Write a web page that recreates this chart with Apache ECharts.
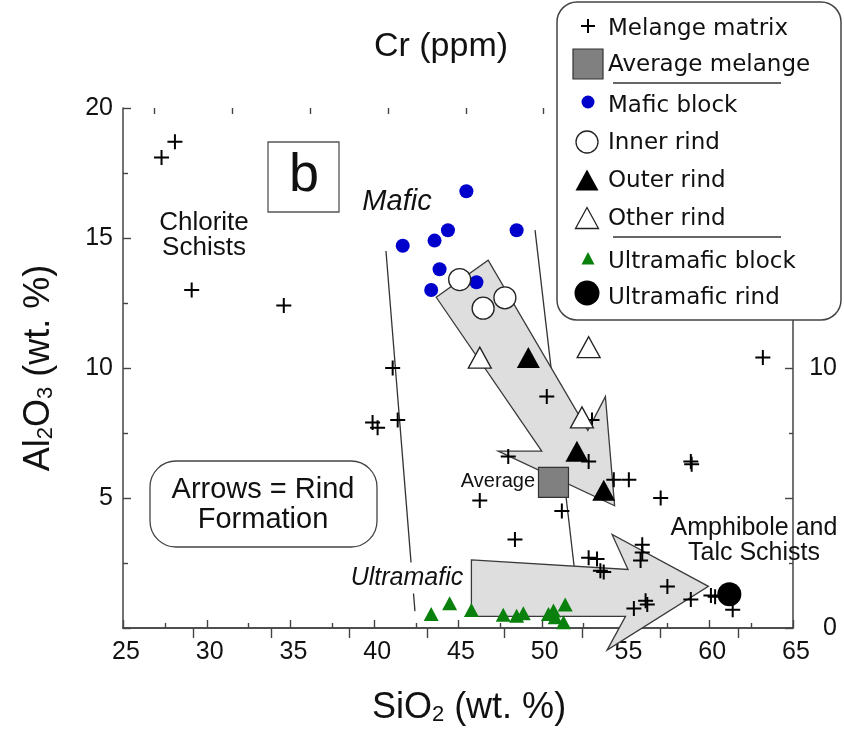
<!DOCTYPE html>
<html>
<head>
<meta charset="utf-8">
<script src="https://cdn.jsdelivr.net/npm/echarts@6/dist/echarts.min.js"></script>
<style>html,body{margin:0;padding:0;background:#fff;}#c{width:844px;height:735px;}</style>
</head>
<body>
<div id="c"></div>
<script>
// ---- data (SiO2 wt.%, Al2O3 wt.%) ----
const melangeMatrix = [[27.3,18.1],[28.1,18.7],[29.1,13.0],[34.6,12.4],[41.1,10.0],[39.9,7.9],[40.2,7.7],[41.4,8.0],
  [50.3,8.9],[53.0,8.0],[48.0,6.6],[52.8,6.4],[54.3,5.7],[55.2,5.7],[58.9,6.4],[58.95,6.3],[57.1,5.0],[46.3,4.9],
  [51.2,4.5],[48.4,3.4],[56.0,3.2],[56.0,2.9],[55.9,2.6],[52.8,2.7],[53.3,2.65],[53.5,2.2],[53.7,2.15],[57.5,1.6],
  [56.2,1.05],[56.3,0.9],[55.5,0.75],[58.9,1.1],[60.1,1.25],[60.35,1.2],[61.4,0.7],[63.2,10.4]];
const averageMelange = [[50.7,5.6]];
const maficBlock = [[45.5,16.8],[41.7,14.7],[43.6,14.9],[44.4,15.3],[48.5,15.3],[43.9,13.8],[46.1,13.3],[43.4,13.0]];
const innerRind = [[45.1,13.4],[47.8,12.7],[46.5,12.3]];
const outerRind = [[49.2,10.4],[52.1,6.8],[53.7,5.3]];
const otherRind = [[46.3,10.4],[52.8,10.8],[52.4,8.1]];
const ultramaficBlock = [[43.4,0.54],[44.5,0.95],[45.8,0.69],[47.7,0.51],[48.5,0.47],[48.9,0.57],[50.7,0.67],
  [50.8,0.41],[51.4,0.9],[51.3,0.22],[50.4,0.54]];
const ultramaficRind = [[61.2,1.3]];
// boundary lines and rind-formation arrows (vertices in data units)
const leftBoundary = [[40.7,14.5],[42.43,0.65]];
const rightBoundary = [[49.6,15.3],[52.0,2.0]];
const upperArrow = [[43.7,12.72],[46.8,14.15],[52.75,7.6],[53.8,8.9],[54.35,4.7],[47.4,6.8],[50.0,6.8]];
const lowerArrow = [[45.8,2.62],[55.15,2.25],[54.2,3.6],[59.95,1.6],[53.9,-0.85],[55.0,0.45],[45.8,0.45]];
// axis ticks
const xTicks = {min:25, max:65, interval:5};
const yTicks = {min:0, max:20, interval:5};
const crRange = {min:50, max:4350};
const crMajor = [500,1000,1500,2000,2500,3000,3500,4000];
const crMinor = [250,750,1250,1750,2250,2750,3250,3750,4250];
const legendNames = ['Melange matrix','Average melange','Mafic block','Inner rind','Outer rind','Other rind','Ultramafic block','Ultramafic rind'];

const FONT = '"Liberation Sans", Arial, Helvetica, sans-serif';
const LFONT = '"DejaVu Sans", Verdana, sans-serif';
const AX = '#444';
const crossPath = 'path://M0,5L10,5M5,0L5,10';

function polygonSeries(pts) {
  return {
    type: 'custom', data: pts, clip: false, silent: true, z: 2,
    encode: {x: 0, y: 1},
    renderItem: function (params, api) {
      if (params.dataIndex !== 0) return null;
      return {
        type: 'polygon',
        shape: {points: pts.map(p => api.coord(p))},
        style: {fill: '#dedede', stroke: '#3a3a3a', lineWidth: 1.3}
      };
    }
  };
}
function lineSeries(pts) {
  return {type: 'line', data: pts, symbol: 'none', silent: true, z: 1,
    lineStyle: {color: '#333', width: 1.3}};
}
function scatter(name, data, symbol, size, style) {
  return {name: name, type: 'scatter', data: data, symbol: symbol, symbolSize: size, z: 3,
    emphasis: {disabled: true}, itemStyle: Object.assign({opacity: 1}, style)};
}

const chart = echarts.init(document.getElementById('c'), null, {renderer: 'canvas'});

const tickStyle = {color: AX, width: 1.4};
const option = {
  animation: false,
  backgroundColor: '#fff',
  grid: {left: 123, right: 51, top: 108, bottom: 107},
  xAxis: [
    {type: 'value', position: 'bottom', min: xTicks.min, max: xTicks.max, interval: xTicks.interval,
      axisLine: {lineStyle: {color: AX, width: 1.5}},
      axisTick: {inside: true, length: 8, lineStyle: tickStyle},
      minorTick: {show: true, splitNumber: 2, length: 5, lineStyle: tickStyle},
      splitLine: {show: false}, minorSplitLine: {show: false},
      axisLabel: {fontSize: 25, color: '#111', fontFamily: FONT, margin: 12, padding: [0,0,0,6]},
      name: 'SiO{sub|2} (wt. %)', nameLocation: 'middle', nameGap: 62,
      nameTextStyle: {fontSize: 36, fontFamily: FONT, color: '#111', lineHeight: 36, padding: [0,0,0,22],
        rich: {sub: {fontSize: 22, fontFamily: FONT, color: '#111', lineHeight: 12, verticalAlign: 'bottom'}}}
    },
    {type: 'value', position: 'top', min: crRange.min, max: crRange.max,
      axisLine: {show: true, lineStyle: {color: AX, width: 1.5}},
      axisTick: {show: true, inside: true, length: 10, lineStyle: tickStyle, customValues: crMajor},
      axisLabel: {show: false, customValues: crMajor}, splitLine: {show: false},
      name: 'Cr (ppm)', nameLocation: 'middle', nameGap: 44,
      nameTextStyle: {fontSize: 34, fontFamily: FONT, color: '#111', padding: [0,34,0,0]}
    },
    {type: 'value', position: 'top', min: crRange.min, max: crRange.max,
      axisLine: {show: false},
      axisTick: {show: true, inside: true, length: 6, lineStyle: tickStyle, customValues: crMinor},
      axisLabel: {show: false, customValues: crMinor}, splitLine: {show: false}
    }
  ],
  yAxis: [
    {type: 'value', position: 'left', min: yTicks.min, max: yTicks.max, interval: yTicks.interval,
      axisLine: {lineStyle: {color: AX, width: 1.5}},
      axisTick: {inside: true, length: 8, lineStyle: tickStyle},
      minorTick: {show: true, splitNumber: 2, length: 5, lineStyle: tickStyle},
      splitLine: {show: false}, minorSplitLine: {show: false},
      axisLabel: {fontSize: 25, color: '#111', fontFamily: FONT, margin: 10, showMinLabel: false},
      name: 'Al{sub|2}O{sub|3} (wt. %)', nameLocation: 'middle', nameGap: 66, nameRotate: 90,
      nameTextStyle: {fontSize: 36, fontFamily: FONT, color: '#111', lineHeight: 36, padding: [0,0,0,0],
        rich: {sub: {fontSize: 22, fontFamily: FONT, color: '#111', lineHeight: 12, verticalAlign: 'bottom'}}}
    },
    {type: 'value', position: 'right', min: yTicks.min, max: yTicks.max, interval: yTicks.interval,
      axisLine: {lineStyle: {color: AX, width: 1.5}},
      axisTick: {inside: true, length: 8, lineStyle: tickStyle},
      minorTick: {show: true, splitNumber: 2, length: 4, lineStyle: tickStyle},
      splitLine: {show: false}, minorSplitLine: {show: false},
      axisLabel: {fontSize: 25, color: '#111', fontFamily: FONT, margin: 44, align: 'right',
        formatter: v => (v % 10 === 0 ? String(v) : '')}
    }
  ],
  series: [
    lineSeries(leftBoundary),
    lineSeries(rightBoundary),
    polygonSeries(upperArrow),
    polygonSeries(lowerArrow),
    scatter(legendNames[0], melangeMatrix, crossPath, 15, {color: 'rgba(0,0,0,0)', borderColor: '#000', borderWidth: 2}),
    scatter(legendNames[2], maficBlock, 'circle', 14, {color: '#0000cc'}),
    scatter(legendNames[3], innerRind, 'circle', 22, {color: '#fff', borderColor: '#222', borderWidth: 1.3}),
    scatter(legendNames[4], outerRind, 'triangle', [23, 21], {color: '#000'}),
    scatter(legendNames[5], otherRind, 'triangle', [23, 21], {color: '#fff', borderColor: '#222', borderWidth: 1.3}),
    scatter(legendNames[6], ultramaficBlock, 'triangle', [15, 14], {color: '#0a800d'}),
    scatter(legendNames[1], averageMelange, 'rect', 30, {color: '#808080', borderColor: '#333', borderWidth: 1.2}),
    scatter(legendNames[7], ultramaficRind, 'circle', 24, {color: '#000'}),
    // carrier for the top Cr axes
    {type: 'line', xAxisIndex: 1, data: [], silent: true},
    {type: 'line', xAxisIndex: 2, data: [], silent: true}
  ]
};

function txt(text, x, y, size, opts) {
  opts = opts || {};
  return {type: 'text', z: opts.z || 50, silent: true,
    style: Object.assign({text: text, x: x, y: y, fill: '#111',
      font: (opts.italic ? 'italic ' : '') + size + 'px ' + (opts.family || FONT),
      align: opts.align || 'center', verticalAlign: 'middle',
      textAlign: opts.align || 'center', textVerticalAlign: 'middle',
      lineHeight: opts.lineHeight || size}, opts.extra || {})};
}

// legend (drawn as a boxed key)
const LX = 588, TX = 608;
const rowY = [29, 65, 106, 143, 181, 219, 262, 298];
const legendEls = [
  {type: 'rect', z: 90, silent: true, shape: {x: 557, y: 2, width: 284, height: 318, r: 20},
    style: {fill: '#fff', stroke: '#444', lineWidth: 1.5}},
  {type: 'line', z: 91, shape: {x1: LX - 7, y1: 26, x2: LX + 7, y2: 26}, style: {stroke: '#000', lineWidth: 2}},
  {type: 'line', z: 91, shape: {x1: LX, y1: 19, x2: LX, y2: 33}, style: {stroke: '#000', lineWidth: 2}},
  {type: 'rect', z: 91, shape: {x: LX - 15, y: 49, width: 30, height: 30}, style: {fill: '#808080', stroke: '#333', lineWidth: 1.2}},
  {type: 'circle', z: 91, shape: {cx: LX, cy: 102, r: 6.5}, style: {fill: '#0000cc'}},
  {type: 'circle', z: 91, shape: {cx: LX - 1, cy: 142, r: 11}, style: {fill: '#fff', stroke: '#222', lineWidth: 1.3}},
  {type: 'polygon', z: 91, shape: {points: [[LX - 12.5, 190.5], [LX + 10.5, 190.5], [LX - 1, 169.5]]}, style: {fill: '#000'}},
  {type: 'polygon', z: 91, shape: {points: [[LX - 12.5, 228.5], [LX + 10.5, 228.5], [LX - 1, 207.5]]}, style: {fill: '#fff', stroke: '#222', lineWidth: 1.3}},
  {type: 'polygon', z: 91, shape: {points: [[LX - 6.5, 264.5], [LX + 6.5, 264.5], [LX, 252]]}, style: {fill: '#0a800d'}},
  {type: 'circle', z: 91, shape: {cx: LX - 1, cy: 293, r: 12.5}, style: {fill: '#000'}},
  {type: 'line', z: 91, shape: {x1: 613, y1: 83, x2: 781, y2: 83}, style: {stroke: '#333', lineWidth: 1.3}},
  {type: 'line', z: 91, shape: {x1: 613, y1: 237, x2: 781, y2: 237}, style: {stroke: '#333', lineWidth: 1.3}}
];
legendNames.forEach((n, i) => legendEls.push(txt(n, TX, rowY[i], 23, {align: 'left', family: LFONT, z: 92})));

option.graphic = [
  // panel label
  {type: 'rect', z: 40, silent: true, shape: {x: 268, y: 142, width: 71, height: 70}, style: {fill: '#fff', stroke: '#555', lineWidth: 1.3}},
  txt('b', 304, 176, 54),
  txt('Mafic', 397, 202, 29, {italic: true}),
  txt('Chlorite\nSchists', 204, 235, 26, {lineHeight: 25}),
  {type: 'rect', z: 40, silent: true, shape: {x: 150, y: 461, width: 227, height: 86, r: 26}, style: {fill: '#fff', stroke: '#444', lineWidth: 1.3}},
  txt('Arrows = Rind\nFormation', 263, 505, 29, {lineHeight: 30}),
  txt('Average', 535, 481, 20, {align: 'right'}),
  txt('Ultramafic', 407, 578, 25, {italic: true, extra: {backgroundColor: '#fff', padding: [3, 2, 3, 2]}}),
  txt('Amphibole and\nTalc Schists', 754, 541, 25, {lineHeight: 25})
].concat(legendEls);

chart.setOption(option);
</script>
</body>
</html>
